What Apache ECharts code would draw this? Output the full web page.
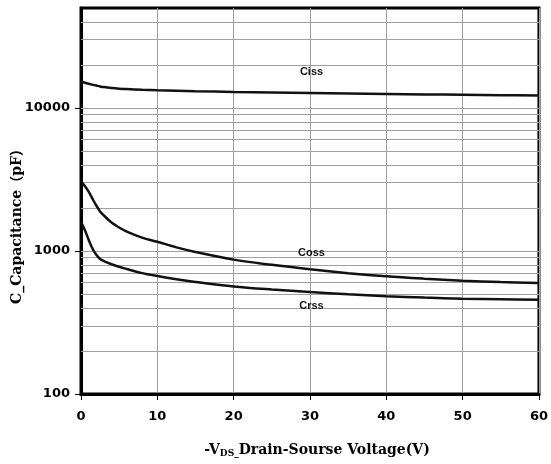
<!DOCTYPE html>
<html>
<head>
<meta charset="utf-8">
<script src="https://cdn.jsdelivr.net/npm/echarts@6/dist/echarts.min.js"></script>
<style>
  html, body { margin: 0; padding: 0; background: #fff; }
  #chartArea { width: 551px; height: 464px; }
</style>
</head>
<body>
<div id="chartArea"></div>
<script>
var vds = [0, 0.5, 1, 1.5, 2, 2.5, 3, 4, 5, 6, 8, 10, 12.5, 15, 20, 25, 30, 35, 40, 45, 50, 55, 60];
var ciss = [15300, 15000, 14750, 14550, 14350, 14150, 14000, 13800, 13650, 13550, 13400, 13300, 13200, 13100, 12950, 12830, 12720, 12620, 12530, 12440, 12360, 12280, 12200];
var coss = [3070, 2850, 2600, 2320, 2080, 1890, 1770, 1580, 1460, 1365, 1240, 1160, 1060, 985, 870, 800, 745, 700, 665, 640, 620, 607, 597];
var crss = [1600, 1400, 1200, 1040, 940, 880, 850, 808, 775, 748, 700, 668, 635, 608, 565, 538, 517, 498, 483, 472, 464, 460, 456];
var xTicks = [0, 10, 20, 30, 40, 50, 60];
var yMajor = [100, 1000, 10000];

var myChart = echarts.init(document.getElementById('chartArea'));

function pairs(ys) {
    return vds.map(function(v, i) { return [v, ys[i]]; });
}

// horizontal grid at every 1..9 multiple of each decade, up to the axis max
var gridLines = [];
yMajor.forEach(function(d) {
    for (var k = 1; k <= 9; k++) {
        var v = d * k;
        if (v > 100 && v < 50000) gridLines.push({ yAxis: v });
    }
});

var labelFont = { fontFamily: 'DejaVu Sans', fontWeight: 'bold', fontSize: 13, color: '#000' };

function curve(name, ys, labelY) {
    return {
        name: name,
        type: 'line',
        data: pairs(ys),
        smooth: 0.35,
        symbol: 'none',
        z: 5,
        lineStyle: { color: '#111', width: 2.5 },
        markPoint: {
            silent: true,
            symbol: 'rect',
            symbolSize: 1,
            itemStyle: { color: 'rgba(0,0,0,0)' },
            label: {
                show: true,
                position: 'inside',
                formatter: name,
                fontFamily: 'Liberation Sans',
                fontWeight: 'bold',
                fontSize: 11,
                color: '#111'
            },
            data: [{ coord: [30.2, labelY] }]
        }
    };
}

var option = {
    animation: false,
    grid: {
        left: 81, right: 10, top: 8, bottom: 70,
        show: true, borderColor: '#000', borderWidth: 3
    },
    xAxis: {
        type: 'value',
        min: 0, max: 60, interval: 10,
        axisLine: { show: true, lineStyle: { color: '#000', width: 3 } },
        axisTick: { show: true, length: 6, lineStyle: { color: '#000', width: 1 } },
        axisLabel: Object.assign({ margin: 16 }, labelFont),
        splitLine: { show: true, lineStyle: { color: '#a0a0a0', width: 1 } }
    },
    yAxis: [{
        type: 'log',
        logBase: 10,
        min: 100, max: 50000,
        interval: 1,
        axisLine: { show: true, lineStyle: { color: '#000', width: 3 } },
        axisTick: { show: true, length: 6, lineStyle: { color: '#000', width: 1 } },
        axisLabel: Object.assign({
            margin: 11,
            showMaxLabel: false,
            formatter: function(v) { return yMajor.indexOf(v) >= 0 ? String(v) : ''; }
        }, labelFont),
        splitLine: { show: false }
    }, {
        type: 'log',
        logBase: 10,
        min: 100, max: 50000,
        interval: 1,
        position: 'left',
        axisLine: { show: false },
        axisTick: { show: true, inside: true, length: 8, lineStyle: { color: '#000', width: 1 } },
        axisLabel: { show: false },
        splitLine: { show: false }
    }],
    graphic: [{
        type: 'text',
        x: 17, y: 223,
        rotation: Math.PI / 2,
        style: {
            text: 'C_Capacitance（pF）',
            fontFamily: 'DejaVu Serif, Noto Sans CJK SC',
            fontWeight: 'bold',
            fontSize: 14,
            fill: '#000',
            align: 'center',
            verticalAlign: 'middle'
        }
    }, {
        type: 'text',
        x: 317, y: 450,
        style: {
            text: '{a|-V}{s|DS_}{a|Drain-Sourse Voltage(V)}',
            align: 'center',
            verticalAlign: 'middle',
            rich: {
                a: { fontFamily: 'DejaVu Serif', fontWeight: 'bold', fontSize: 14, fill: '#000', lineHeight: 20 },
                s: { fontFamily: 'DejaVu Serif', fontWeight: 'bold', fontSize: 9, fill: '#000', lineHeight: 20, padding: [7, 0, 0, 0] }
            }
        }
    }],
    series: [{
        type: 'line',
        data: [],
        z: 1,
        markLine: {
            silent: true,
            symbol: ['none', 'none'],
            label: { show: false },
            lineStyle: { type: 'solid', color: '#a0a0a0', width: 1 },
            data: gridLines
        }
    },
        curve('Ciss', ciss, 17900),
        curve('Coss', coss, 975),
        curve('Crss', crss, 414)
    ]
};

myChart.setOption(option);
</script>
</body>
</html>
